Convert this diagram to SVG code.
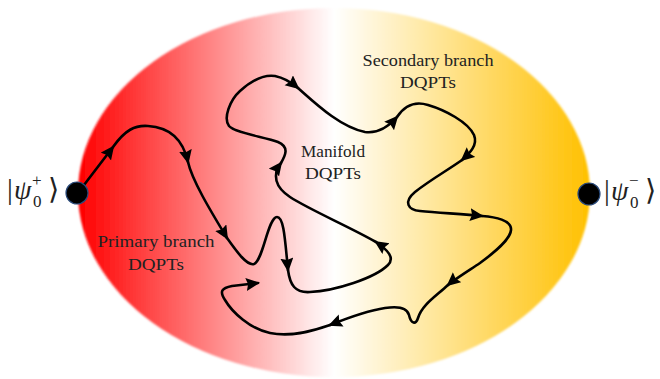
<svg xmlns="http://www.w3.org/2000/svg" width="660" height="379" viewBox="0 0 660 379">
<defs>
<linearGradient id="bg" gradientUnits="userSpaceOnUse" x1="78" y1="0" x2="590" y2="0">
<stop offset="0" stop-color="#ff0000"/>
<stop offset="0.5" stop-color="#ffffff"/>
<stop offset="1" stop-color="#ffc000"/>
</linearGradient>
<filter id="soft" x="-5%" y="-5%" width="110%" height="110%"><feGaussianBlur stdDeviation="1.2"/></filter>
<marker id="arr" markerUnits="userSpaceOnUse" markerWidth="18" markerHeight="14" refX="12" refY="6.5" orient="auto">
<path d="M0,0 L14,6.5 L0,13 L2,6.5 Z" fill="#000"/>
</marker>
<style>
.lbl{font-size:16px;fill:#222;text-anchor:middle}
.ket{fill:#222}
.seg{fill:none;stroke:#000;stroke-width:2.6;stroke-linecap:round;stroke-linejoin:round;marker-end:url(#arr)}
.dot{fill:#000;stroke:#2a4a7a;stroke-width:1.2}
</style>
</defs>
<g id="region">
<ellipse cx="334" cy="192.5" rx="256" ry="184.5" fill="url(#bg)" filter="url(#soft)"/>
</g>
<g id="labels" font-family="'Liberation Serif', 'DejaVu Serif', serif">
<text class="lbl" x="156" y="247" textLength="117" lengthAdjust="spacingAndGlyphs">Primary branch</text>
<text class="lbl" x="156" y="270" textLength="56" lengthAdjust="spacingAndGlyphs">DQPTs</text>
<text class="lbl" x="333" y="157" textLength="64" lengthAdjust="spacingAndGlyphs">Manifold</text>
<text class="lbl" x="333" y="179" textLength="56" lengthAdjust="spacingAndGlyphs">DQPTs</text>
<text class="lbl" x="428" y="66" textLength="131" lengthAdjust="spacingAndGlyphs">Secondary branch</text>
<text class="lbl" x="428" y="88" textLength="56" lengthAdjust="spacingAndGlyphs">DQPTs</text>
</g>
<g id="connectors">
<path class="seg" d="M78,193 C90,177 104,159 113,147"/>
<path class="seg" d="M113,147 C125,130 135,125 148,126 C165,127 182,135 188,162"/>
<path class="seg" d="M188,162 C192,180 210,210 227,238"/>
<path class="seg" d="M227,238 C237,252 247,266 254,264 C263,261 268,217 277,217 C284,217 285,240 288,270"/>
<path class="seg" d="M288,270 C290,285 295,293 310,292 C335,291 375,278 388,265 C395,258 388,250 376,242"/>
<path class="seg" d="M376,242 C350,227 310,210 290,197 C275,187 272,175 281,163"/>
<path class="seg" d="M281,163 C285,156 290,147 278,142 C265,137 235,133 229,126 C223,118 230,100 240,91 C250,82 262,74 275,76 C285,78 292,83 298,88"/>
<path class="seg" d="M298,88 C315,103 340,127 365,132 C380,134 390,125 397,117"/>
<path class="seg" d="M397,117 C403,108 412,100 428,105 C445,110 468,122 474,135 C478,145 470,153 462,160"/>
<path class="seg" d="M462,160 C448,170 430,180 415,192 C403,202 408,210 420,211 C440,213 465,214 482,216"/>
<path class="seg" d="M482,216 C495,217 512,220 511,230 C510,240 495,252 480,263 C468,271 455,279 448,285"/>
<path class="seg" d="M448,285 C435,297 422,305 418,318 C416,325 411,324 409,315 C407,307 398,306 385,308 C365,311 345,319 330,325"/>
<path class="seg" d="M330,325 C310,332 290,337 270,333 C250,329 232,312 225,300 C219,291 222,288 232,286 C240,285 250,284 258,283"/>
</g>
<g id="psi-plus" font-family="'Liberation Serif', 'DejaVu Serif', serif">
<circle class="dot" cx="77" cy="193" r="11"/>
<text class="ket" x="7" y="199" font-size="29">|</text>
<text class="ket" x="14" y="199" font-size="28" font-style="italic">ψ</text>
<text class="ket" x="32" y="186" font-size="17">+</text>
<text class="ket" x="33" y="207" font-size="17">0</text>
<text class="ket" x="48" y="199" font-size="29">⟩</text>
</g>
<g id="psi-minus" font-family="'Liberation Serif', 'DejaVu Serif', serif">
<circle class="dot" cx="589" cy="194" r="11"/>
<text class="ket" x="604" y="200" font-size="29">|</text>
<text class="ket" x="611" y="200" font-size="28" font-style="italic">ψ</text>
<text class="ket" x="629" y="186" font-size="17">−</text>
<text class="ket" x="630" y="208" font-size="17">0</text>
<text class="ket" x="645" y="200" font-size="29">⟩</text>
</g>
</svg>
